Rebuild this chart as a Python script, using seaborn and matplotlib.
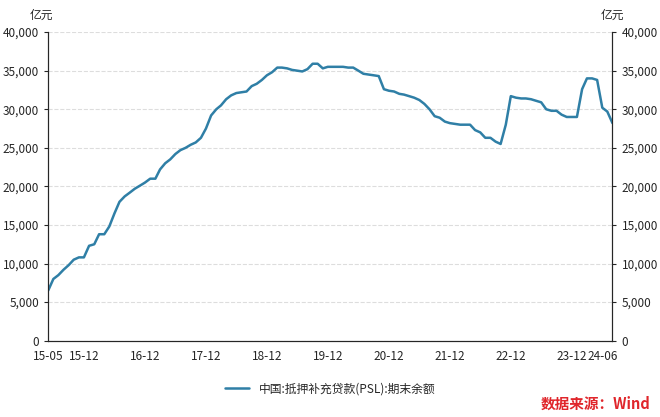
import matplotlib
matplotlib.use("Agg")
import matplotlib.pyplot as plt
import seaborn as sns
import pandas as pd
import numpy as np

values = [6500, 8000, 8500, 9200, 9800, 10500, 10800, 10800,
          12300, 12500, 13800, 13800, 14800, 16500, 18000, 18700, 19200, 19700, 20100, 20500,
          21000, 21000, 22200, 23000, 23500, 24200, 24700, 25000, 25400, 25700, 26300, 27500,
          29200, 30000, 30500, 31300, 31800, 32100, 32200, 32300, 33000, 33300, 33800, 34400,
          34800, 35400, 35400, 35300, 35100, 35000, 34900, 35200, 35900, 35900, 35300, 35500,
          35500, 35500, 35500, 35400, 35400, 35000, 34600, 34500, 34400, 34300, 32600, 32400,
          32300, 32000, 31900, 31700, 31500, 31200, 30700, 30000, 29100, 28900, 28400, 28200,
          28100, 28000, 28000, 28000, 27300, 27000, 26300, 26300, 25800, 25500, 28000, 31700,
          31500, 31400, 31400, 31300, 31100, 30900, 30000, 29800, 29800, 29300, 29000, 29000,
          29000, 32600, 34000, 34000, 33800, 30200, 29700, 28200]
months = pd.date_range("2015-05-01", periods=len(values), freq="MS")
tick_labels = ["15-05", "15-12", "16-12", "17-12", "18-12", "19-12", "20-12", "21-12", "22-12", "23-12", "24-06"]
tick_dates = pd.to_datetime(["2015-05-01", "2015-12-01", "2016-12-01", "2017-12-01", "2018-12-01",
                             "2019-12-01", "2020-12-01", "2021-12-01", "2022-12-01", "2023-12-01", "2024-06-01"])
df = pd.DataFrame({"date": months, "v": values})

sns.set_style("white")
plt.rcParams['font.family'] = ['Noto Sans CJK SC', 'DejaVu Sans']
fig = plt.figure(figsize=(6.6, 4.17), dpi=100)
ax = fig.add_axes([0.073, 0.183, 0.855, 0.74])
sns.lineplot(data=df, x="date", y="v", ax=ax, color="#2f7fa6", lw=1.8, label="中国:抵押补充贷款(PSL):期末余额")
ax.set_xlim(months[0], months[-1])
ax.set_ylim(0, 40000)
yt = np.arange(0, 40001, 5000)
ax.set_yticks(yt)
ax.set_yticklabels([f"{v:,}" for v in yt], fontsize=8.5)
ax.set_xticks(tick_dates)
ax.set_xticklabels(tick_labels, fontsize=8.5)
ax.grid(axis="y", ls="--", color="#dddddd", lw=0.8)
ax.set_xlabel(""); ax.set_ylabel("")
for s in ["top"]:
    ax.spines[s].set_visible(False)
for s in ["left", "right", "bottom"]:
    ax.spines[s].set_color("#333333")
ax2 = ax.twinx()
ax2.set_ylim(0, 40000)
ax2.set_yticks(yt)
ax2.set_yticklabels([f"{v:,}" for v in yt], fontsize=8.5)
ax2.spines["top"].set_visible(False)
ax.tick_params(length=3)
ax2.tick_params(length=3)
fig.text(0.045, 0.955, "亿元", fontsize=8.5)
fig.text(0.91, 0.955, "亿元", fontsize=8.5)
leg = ax.legend(loc="upper center", bbox_to_anchor=(0.5, -0.1), frameon=False, fontsize=8.5)
fig.text(0.985, 0.02, "数据来源：Wind", color="#e0262b", fontsize=10.5, ha="right", weight="bold")
fig.savefig("out.png")
